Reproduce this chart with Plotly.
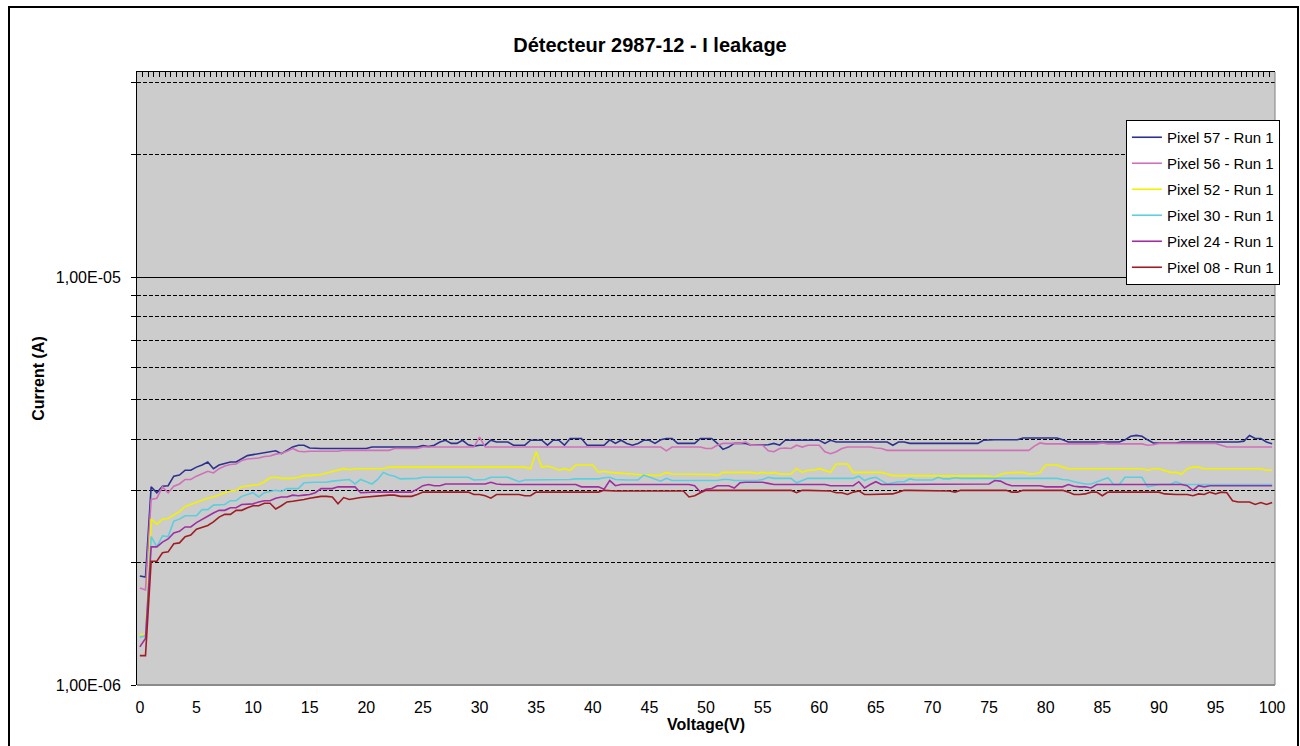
import plotly.graph_objects as go

# ---------------- data (currents, in microamperes) ----------------
voltage = [i / 2 for i in range(201)]  # 0 V .. 100 V, 0.5 V steps (category positions)

x_tick_values = [0, 5, 10, 15, 20, 25, 30, 35, 40, 45, 50, 55, 60, 65, 70, 75, 80, 85, 90, 95, 100]
x_tick_labels = ["0", "5", "10", "15", "20", "25", "30", "35", "40", "45", "50",
                 "55", "60", "65", "70", "75", "80", "85", "90", "95", "100"]

y_major_values = [1e-6, 1e-5]
y_major_labels = ["1,00E-06", "1,00E-05"]
y_minor_values = [2e-6, 3e-6, 4e-6, 5e-6, 6e-6, 7e-6, 8e-6, 9e-6, 2e-5, 3e-5]

pixel57_uA = [
    1.85, 1.84, 3.06, 2.96, 3.07, 3.08, 3.25, 3.27, 3.36, 3.36,
    3.42, 3.46, 3.52, 3.39, 3.46, 3.49, 3.52, 3.52, 3.58, 3.65,
    3.67, 3.69, 3.71, 3.73, 3.75, 3.69, 3.76, 3.83, 3.87, 3.87,
    3.81, 3.80, 3.80, 3.80, 3.80, 3.80, 3.80, 3.80, 3.80, 3.80,
    3.80, 3.83, 3.83, 3.83, 3.83, 3.83, 3.83, 3.83, 3.83, 3.83,
    3.86, 3.84, 3.87, 3.94, 3.98, 3.91, 3.91, 3.98, 3.88, 3.85,
    3.87, 3.87, 3.98, 3.94, 3.94, 3.94, 3.87, 3.87, 3.87, 3.98,
    3.98, 3.98, 3.87, 3.98, 3.98, 3.87, 4.02, 4.02, 4.02, 3.87,
    3.87, 3.87, 3.87, 3.99, 3.91, 3.98, 3.91, 3.87, 3.91, 3.98,
    3.98, 3.91, 3.99, 4.02, 4.02, 3.91, 3.91, 3.91, 3.91, 4.02,
    4.02, 4.02, 3.91, 3.78, 3.83, 3.91, 3.91, 3.91, 3.87, 3.87,
    3.87, 3.88, 3.91, 3.87, 3.98, 3.98, 3.98, 3.98, 3.98, 3.98,
    3.98, 3.91, 3.98, 3.94, 3.94, 3.94, 3.94, 3.94, 3.94, 3.94,
    3.94, 3.94, 3.94, 3.87, 3.94, 3.94, 3.91, 3.91, 3.91, 3.91,
    3.91, 3.91, 3.91, 3.91, 3.91, 3.91, 3.91, 3.91, 3.91, 3.98,
    3.99, 3.99, 3.99, 3.99, 3.99, 3.99, 4.03, 4.03, 4.02, 4.03,
    4.02, 4.03, 4.03, 3.99, 3.94, 3.94, 3.94, 3.94, 3.94, 3.94,
    3.94, 3.94, 3.94, 3.94, 3.99, 4.07, 4.09, 4.07, 3.99, 3.92,
    3.92, 3.92, 3.92, 3.92, 3.94, 3.94, 3.94, 3.94, 3.94, 3.94,
    3.94, 3.94, 3.94, 3.94, 3.94, 3.96, 4.09, 4.02, 4.02, 3.94,
    3.90,
]

pixel56_uA = [
    1.73, 1.71, 2.85, 2.87, 3.06, 2.96, 3.07, 3.11, 3.19, 3.19,
    3.25, 3.29, 3.34, 3.31, 3.39, 3.44, 3.47, 3.48, 3.55, 3.58,
    3.59, 3.60, 3.63, 3.64, 3.68, 3.70, 3.74, 3.80, 3.74, 3.73,
    3.74, 3.74, 3.74, 3.74, 3.74, 3.74, 3.76, 3.76, 3.76, 3.76,
    3.76, 3.76, 3.76, 3.76, 3.76, 3.80, 3.80, 3.80, 3.80, 3.80,
    3.83, 3.83, 3.83, 3.83, 3.83, 3.83, 3.83, 3.83, 3.83, 3.83,
    4.05, 3.83, 3.83, 3.83, 3.83, 3.83, 3.83, 3.83, 3.83, 3.83,
    3.83, 3.83, 3.83, 3.83, 3.83, 3.83, 3.83, 3.83, 3.83, 3.83,
    3.83, 3.83, 3.83, 3.83, 3.83, 3.83, 3.83, 3.83, 3.83, 3.83,
    3.83, 3.83, 3.83, 3.75, 3.83, 3.83, 3.83, 3.83, 3.83, 3.83,
    3.80, 3.80, 3.87, 3.91, 3.91, 3.91, 3.91, 3.94, 3.87, 3.87,
    3.87, 3.75, 3.73, 3.80, 3.81, 3.80, 3.87, 3.83, 3.87, 3.87,
    3.87, 3.73, 3.69, 3.73, 3.80, 3.83, 3.83, 3.83, 3.83, 3.83,
    3.81, 3.80, 3.76, 3.76, 3.76, 3.76, 3.76, 3.76, 3.76, 3.76,
    3.76, 3.76, 3.76, 3.76, 3.76, 3.76, 3.76, 3.76, 3.76, 3.76,
    3.76, 3.76, 3.76, 3.76, 3.76, 3.76, 3.76, 3.76, 3.85, 3.92,
    3.90, 3.90, 3.90, 3.90, 3.90, 3.90, 3.90, 3.90, 3.90, 3.90,
    3.92, 3.90, 3.90, 3.90, 3.90, 3.90, 3.90, 3.90, 3.87, 3.88,
    3.91, 3.91, 3.91, 3.91, 3.91, 3.91, 3.91, 3.91, 3.91, 3.91,
    3.91, 3.87, 3.83, 3.83, 3.83, 3.83, 3.83, 3.83, 3.83, 3.83,
    3.83,
]

pixel52_uA = [
    1.33, 1.33, 2.55, 2.48, 2.55, 2.56, 2.61, 2.66, 2.74, 2.77,
    2.81, 2.83, 2.87, 2.89, 2.93, 2.96, 2.99, 3.00, 3.06, 3.07,
    3.09, 3.10, 3.15, 3.22, 3.23, 3.21, 3.21, 3.21, 3.23, 3.26,
    3.26, 3.27, 3.28, 3.31, 3.34, 3.36, 3.39, 3.37, 3.39, 3.39,
    3.39, 3.39, 3.39, 3.39, 3.42, 3.42, 3.42, 3.42, 3.42, 3.42,
    3.42, 3.42, 3.42, 3.42, 3.42, 3.42, 3.42, 3.42, 3.42, 3.42,
    3.42, 3.42, 3.42, 3.42, 3.42, 3.42, 3.42, 3.42, 3.42, 3.39,
    3.73, 3.42, 3.44, 3.41, 3.36, 3.39, 3.36, 3.46, 3.46, 3.46,
    3.46, 3.32, 3.34, 3.32, 3.31, 3.30, 3.29, 3.28, 3.27, 3.27,
    3.27, 3.26, 3.27, 3.32, 3.29, 3.29, 3.29, 3.29, 3.29, 3.29,
    3.29, 3.28, 3.26, 3.32, 3.32, 3.32, 3.32, 3.32, 3.32, 3.30,
    3.32, 3.30, 3.32, 3.29, 3.29, 3.29, 3.39, 3.32, 3.36, 3.36,
    3.39, 3.36, 3.32, 3.48, 3.48, 3.48, 3.32, 3.32, 3.32, 3.32,
    3.32, 3.32, 3.29, 3.26, 3.26, 3.26, 3.26, 3.26, 3.26, 3.26,
    3.26, 3.26, 3.26, 3.26, 3.26, 3.26, 3.26, 3.26, 3.26, 3.26,
    3.25, 3.23, 3.28, 3.31, 3.32, 3.32, 3.32, 3.29, 3.29, 3.32,
    3.46, 3.46, 3.46, 3.42, 3.39, 3.39, 3.39, 3.39, 3.39, 3.39,
    3.39, 3.39, 3.39, 3.39, 3.39, 3.39, 3.39, 3.39, 3.36, 3.39,
    3.39, 3.36, 3.32, 3.32, 3.29, 3.39, 3.42, 3.42, 3.39, 3.39,
    3.39, 3.39, 3.39, 3.39, 3.39, 3.39, 3.39, 3.39, 3.39, 3.36,
    3.36,
]

pixel30_uA = [
    1.31, 1.32, 2.31, 2.18, 2.32, 2.31, 2.52, 2.55, 2.60, 2.60,
    2.60, 2.69, 2.69, 2.76, 2.76, 2.77, 2.83, 2.83, 2.90, 2.93,
    2.96, 2.89, 2.96, 2.98, 3.00, 2.98, 3.03, 3.03, 3.03, 3.13,
    3.14, 3.14, 3.14, 3.14, 3.16, 3.17, 3.19, 3.19, 3.11, 3.19,
    3.15, 3.11, 3.19, 3.32, 3.27, 3.25, 3.20, 3.20, 3.20, 3.21,
    3.23, 3.23, 3.23, 3.23, 3.23, 3.23, 3.23, 3.23, 3.23, 3.18,
    3.18, 3.19, 3.23, 3.23, 3.23, 3.23, 3.19, 3.15, 3.18, 3.18,
    3.18, 3.18, 3.18, 3.18, 3.18, 3.18, 3.19, 3.20, 3.20, 3.20,
    3.20, 3.20, 3.22, 3.23, 3.19, 3.18, 3.18, 3.18, 3.18, 3.27,
    3.23, 3.19, 3.16, 3.21, 3.17, 3.17, 3.17, 3.17, 3.17, 3.17,
    3.17, 3.17, 3.17, 3.19, 3.19, 3.17, 3.17, 3.17, 3.17, 3.17,
    3.19, 3.23, 3.21, 3.21, 3.21, 3.21, 3.13, 3.17, 3.21, 3.21,
    3.21, 3.21, 3.21, 3.21, 3.21, 3.21, 3.21, 3.25, 3.17, 3.21,
    3.23, 3.17, 3.11, 3.13, 3.15, 3.15, 3.20, 3.18, 3.18, 3.18,
    3.18, 3.23, 3.20, 3.20, 3.22, 3.21, 3.21, 3.21, 3.21, 3.21,
    3.21, 3.21, 3.21, 3.21, 3.21, 3.21, 3.21, 3.21, 3.21, 3.21,
    3.21, 3.21, 3.21, 3.19, 3.18, 3.15, 3.13, 3.11, 3.11, 3.15,
    3.19, 3.22, 3.10, 3.10, 3.23, 3.23, 3.23, 3.23, 3.06, 3.08,
    3.10, 3.10, 3.10, 3.15, 3.11, 3.10, 3.10, 3.10, 3.10, 3.10,
    3.10, 3.10, 3.10, 3.10, 3.10, 3.10, 3.10, 3.10, 3.10, 3.10,
    3.10,
]

pixel24_uA = [
    1.24, 1.30, 2.18, 2.18, 2.24, 2.28, 2.36, 2.38, 2.44, 2.44,
    2.50, 2.55, 2.59, 2.64, 2.68, 2.68, 2.72, 2.72, 2.77, 2.78,
    2.78, 2.81, 2.83, 2.83, 2.87, 2.89, 2.89, 2.92, 2.91, 2.92,
    2.93, 2.96, 3.03, 3.03, 3.03, 3.06, 3.06, 3.06, 3.06, 2.96,
    2.97, 2.97, 2.97, 2.97, 2.97, 2.97, 2.97, 2.97, 2.97, 3.02,
    3.08, 3.10, 3.08, 3.08, 3.11, 3.11, 3.11, 3.11, 3.11, 3.11,
    3.11, 3.11, 3.14, 3.11, 3.10, 3.10, 3.10, 3.10, 3.10, 3.10,
    3.10, 3.10, 3.10, 3.10, 3.10, 3.10, 3.10, 3.10, 3.06, 3.06,
    3.06, 3.06, 3.02, 3.17, 3.08, 3.10, 3.10, 3.10, 3.10, 3.10,
    3.10, 3.10, 3.10, 3.10, 3.10, 3.10, 3.10, 3.10, 3.08, 2.97,
    3.02, 3.03, 3.08, 3.08, 3.08, 3.04, 3.13, 3.14, 3.14, 3.14,
    3.14, 3.12, 3.10, 3.10, 3.10, 3.10, 3.10, 3.10, 3.10, 3.10,
    3.10, 3.10, 3.08, 3.08, 3.08, 3.08, 3.08, 3.15, 3.04, 3.10,
    3.15, 3.10, 3.10, 3.10, 3.10, 3.10, 3.10, 3.10, 3.10, 3.10,
    3.10, 3.10, 3.10, 3.10, 3.10, 3.10, 3.10, 3.10, 3.10, 3.10,
    3.11, 3.17, 3.16, 3.11, 3.08, 3.08, 3.08, 3.08, 3.08, 3.08,
    3.06, 3.06, 3.06, 3.06, 3.10, 3.07, 3.06, 3.06, 3.04, 3.10,
    3.10, 3.10, 3.10, 3.10, 3.10, 3.10, 3.10, 3.10, 3.10, 3.10,
    3.10, 3.10, 3.10, 3.10, 3.10, 3.08, 3.00, 3.08, 3.06, 3.08,
    3.08, 3.08, 3.08, 3.08, 3.08, 3.08, 3.08, 3.08, 3.08, 3.08,
    3.08,
]

pixel08_uA = [
    1.18, 1.18, 2.01, 2.01, 2.11, 2.12, 2.22, 2.23, 2.31, 2.33,
    2.41, 2.43, 2.46, 2.51, 2.58, 2.62, 2.62, 2.68, 2.68, 2.72,
    2.75, 2.75, 2.79, 2.79, 2.70, 2.75, 2.81, 2.82, 2.83, 2.85,
    2.87, 2.89, 2.90, 2.90, 2.89, 2.78, 2.88, 2.85, 2.87, 2.88,
    2.89, 2.90, 2.91, 2.92, 2.92, 2.92, 2.90, 2.90, 2.90, 2.93,
    2.97, 2.97, 2.97, 2.97, 2.97, 2.97, 2.97, 2.97, 2.97, 2.93,
    2.93, 2.91, 2.87, 2.93, 2.93, 2.93, 2.93, 2.93, 2.91, 2.91,
    2.97, 2.97, 2.97, 2.97, 2.97, 2.97, 2.97, 2.97, 2.97, 2.97,
    2.97, 2.97, 3.00, 2.99, 2.99, 2.99, 2.99, 2.99, 2.99, 2.99,
    2.99, 2.99, 2.99, 2.99, 2.99, 2.99, 2.99, 2.89, 2.91, 2.96,
    3.00, 3.00, 3.00, 3.00, 3.00, 3.00, 3.00, 3.00, 3.00, 3.00,
    3.00, 3.00, 3.00, 3.00, 3.00, 3.00, 2.96, 3.00, 3.00, 3.00,
    3.00, 3.00, 2.99, 2.96, 2.96, 2.93, 2.97, 2.99, 2.93, 2.93,
    2.93, 2.93, 2.93, 2.94, 2.97, 3.00, 3.00, 3.00, 3.00, 3.00,
    3.00, 3.00, 3.00, 2.99, 2.97, 3.00, 3.00, 3.00, 3.00, 3.00,
    3.00, 3.00, 3.00, 3.00, 2.97, 2.97, 3.00, 3.00, 3.00, 3.00,
    3.00, 3.00, 3.00, 3.00, 2.97, 2.93, 2.93, 2.94, 2.97, 2.97,
    2.91, 2.97, 2.97, 2.97, 2.97, 2.97, 2.97, 2.97, 2.97, 2.97,
    2.97, 2.94, 2.93, 2.93, 2.93, 2.93, 2.91, 2.94, 2.93, 2.97,
    2.94, 2.97, 2.96, 2.83, 2.81, 2.81, 2.81, 2.77, 2.80, 2.77,
    2.80,
]

series_names = ["Pixel 57 - Run 1", "Pixel 56 - Run 1", "Pixel 52 - Run 1",
                "Pixel 30 - Run 1", "Pixel 24 - Run 1", "Pixel 08 - Run 1"]
series_values = [pixel57_uA, pixel56_uA, pixel52_uA, pixel30_uA, pixel24_uA, pixel08_uA]
series_colors = ["#2D3190", "#D070B8", "#F2F200", "#5CCEE0", "#A02EA0", "#A01C24"]

for vals in series_values:
    assert len(vals) == len(voltage), len(vals)

# ---------------- figure ----------------
FONT = "Liberation Sans, Arial, Helvetica, sans-serif"
fig = go.Figure()

for name, vals, color in zip(series_names, series_values, series_colors):
    fig.add_trace(go.Scatter(
        x=voltage, y=[v * 1e-6 for v in vals], mode="lines", name=name,
        legendgroup=name, line=dict(color=color, width=1.6),
    ))

# empty trace that carries the top category axis (tick marks at category boundaries)
fig.add_trace(go.Scatter(x=[], y=[], xaxis="x2", yaxis="y", showlegend=False, hoverinfo="skip"))

category_edges = [-0.25 + 0.5 * k for k in range(len(voltage) + 1)]
y_top = -4.4975

fig.update_layout(
    width=1300, height=746,
    margin=dict(l=137, r=25, t=72, b=61),
    paper_bgcolor="white",
    plot_bgcolor="#CCCCCC",
    font=dict(family=FONT, color="black"),
    title=dict(text="<b>Détecteur 2987-12 - I leakage</b>", font=dict(size=20, family=FONT, color="black"),
               x=0.5, xref="container", xanchor="center", y=1 - 45 / 746, yref="container", yanchor="middle"),
    showlegend=True,
    legend=dict(x=0.869, y=0.9217, xanchor="left", yanchor="top", bgcolor="white",
                bordercolor="black", borderwidth=1, font=dict(size=15, family=FONT, color="black"),
                tracegroupgap=3.5, itemwidth=30),
    xaxis=dict(range=[-0.25, 100.25], tickmode="array", tickvals=x_tick_values, ticktext=x_tick_labels,
               ticks="outside", ticklen=8, tickcolor="rgba(0,0,0,0)", showline=False, showgrid=False,
               zeroline=False, tickfont=dict(size=16, family=FONT, color="black"),
               title=dict(text="<b>Voltage(V)</b>", font=dict(size=16, family=FONT, color="black"), standoff=0)),
    xaxis2=dict(range=[-0.25, 100.25], overlaying="x", side="top", anchor="y", tickmode="array",
                tickvals=category_edges, ticks="inside", ticklen=5, tickwidth=1, tickcolor="black",
                showticklabels=False, showline=True, linecolor="black", linewidth=1, showgrid=False,
                zeroline=False),
    yaxis=dict(type="log", range=[-6, y_top], tickmode="array", tickvals=y_major_values, ticktext=y_major_labels,
               ticks="outside", ticklen=5, tickcolor="black", showline=True, linecolor="black", linewidth=1,
               showgrid=True, gridcolor="black", gridwidth=1, zeroline=False,
               minor=dict(tickmode="array", tickvals=y_minor_values, ticks="outside", ticklen=5,
                          tickcolor="black", showgrid=True, gridcolor="black", gridwidth=1,
                          griddash="4px,2px"),
               tickfont=dict(size=16, family=FONT, color="black"), ticklabelstandoff=7,
               title=dict(text="<b>Current (A)</b>", font=dict(size=16, family=FONT, color="black"), standoff=7)),
)

# grey right/bottom plot-area border, outer chart frame
fig.add_shape(type="line", xref="paper", yref="paper", x0=1, x1=1, y0=0, y1=1,
              line=dict(color="#808080", width=1), layer="above")
fig.add_shape(type="line", xref="paper", yref="paper", x0=0, x1=1, y0=0, y1=0,
              line=dict(color="#8A8A8A", width=2), layer="above")
fig.add_shape(type="rect", xref="paper", yref="paper", x0=(9 - 137) / 1138, x1=(1298 - 137) / 1138,
              y0=(685 - 752) / 613, y1=(685 - 7) / 613, line=dict(color="black", width=2),
              fillcolor="rgba(0,0,0,0)", layer="below")

fig.write_html("out.html", config={"displayModeBar": False},
               post_script="document.body.style.margin='0';document.body.style.overflow='hidden';")
